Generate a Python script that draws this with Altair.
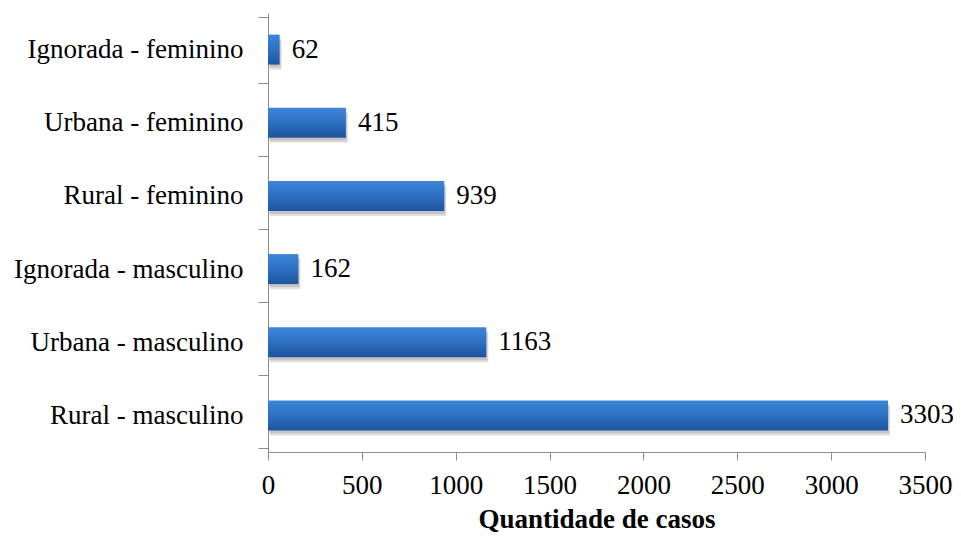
import altair as alt
import pandas as pd

categories = ["Ignorada - feminino", "Urbana - feminino", "Rural - feminino",
              "Ignorada - masculino", "Urbana - masculino", "Rural - masculino"]
values = [62, 415, 939, 162, 1163, 3303]
x_ticks = [0, 500, 1000, 1500, 2000, 2500, 3000, 3500]

df = pd.DataFrame({"cat": categories, "val": values})
FONT = "'Liberation Serif', 'Times New Roman', serif"

y_enc = alt.Y("cat:N", sort=categories, title=None,
              axis=alt.Axis(labelFont=FONT, labelFontSize=27, labelColor="black",
                            labelPadding=15, tickBand="extent", tickSize=10,
                            tickColor="#8c8c8c", domainColor="#8c8c8c", labelLimit=400))
x_enc = alt.X("val:Q", title="Quantidade de casos",
              scale=alt.Scale(domain=[0, 3500], nice=False),
              axis=alt.Axis(values=x_ticks, format="d", grid=False, labelFont=FONT,
                            labelFontSize=27, labelColor="black", labelPadding=12, tickSize=8,
                            labelFlush=False, labelOverlap=False, labelBound=False,
                            tickColor="#8c8c8c", domainColor="#8c8c8c",
                            titleFont=FONT, titleFontSize=27, titleFontWeight="bold",
                            titleColor="black", titlePadding=8))

base = alt.Chart(df).encode(y=y_enc, x=x_enc)

shadow = base.mark_bar(size=30, yOffset=5, xOffset=2, color="#000000", opacity=0.12)
shadow2 = base.mark_bar(size=30, yOffset=3, xOffset=1, color="#000000", opacity=0.12)

bars = base.mark_bar(size=30, color=alt.Gradient(
    gradient="linear", x1=0, y1=0, x2=0, y2=1,
    stops=[alt.GradientStop(color="#3C86DA", offset=0),
           alt.GradientStop(color="#2E70C2", offset=0.5),
           alt.GradientStop(color="#1D549E", offset=1)]))

text = base.mark_text(align="left", baseline="middle", dx=12, font=FONT,
                      fontSize=27, color="black").encode(text="val:Q")

chart = alt.layer(shadow, shadow2, bars, text).properties(
    width=657, height=439,
    autosize=alt.AutoSizeParams(type="none"),
    padding={"left": 260, "top": 5, "right": 28, "bottom": 80},
    background="white",
).configure_view(strokeWidth=0, stroke="transparent")

chart.save("out.html", embed_options={"renderer": "svg", "actions": False})
